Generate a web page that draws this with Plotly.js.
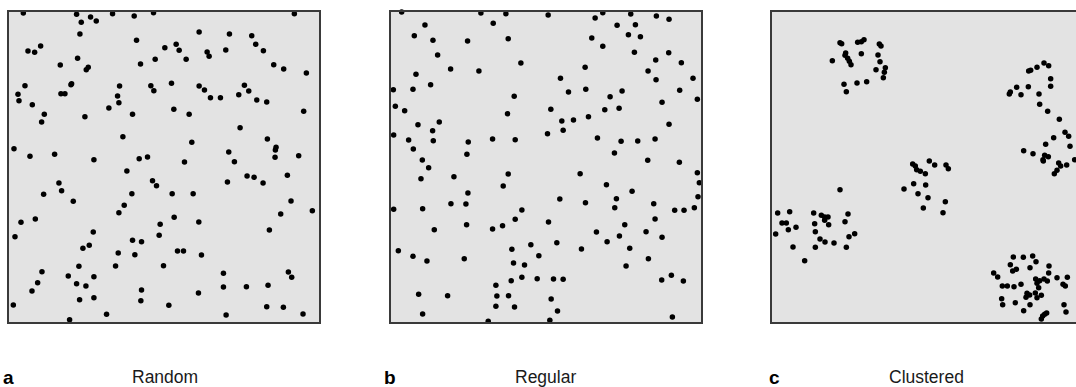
<!DOCTYPE html>
<html>
<head>
<meta charset="utf-8">
<script src="https://cdn.plot.ly/plotly-3.0.1.min.js"></script>
<style>
html,body{margin:0;padding:0;overflow:hidden;background:#fff;width:1076px;height:387px;}
#chart{width:1090px;height:387px;}
</style>
</head>
<body>
<div id="chart"></div>
<script>
// Point positions (arbitrary units, y grows downward)
const panelLabels = ["a", "b", "c"];
const panelTitles = ["Random", "Regular", "Clustered"];

const randomPts = [
[70,38],[230,42],[338,40],[403,47],[461,37],[884,40],[272,50],[289,62],[244,66],[240,101],
[598,95],[689,101],[756,106],[410,120],[122,137],[84,152],[104,156],[495,142],[529,132],[538,150],
[622,155],[628,168],[678,149],[768,132],[791,151],[233,174],[466,177],[559,177],[181,194],[422,191],
[822,193],[852,206],[920,218],[265,201],[259,208],[215,250],[213,253],[75,256],[54,282],[57,301],
[183,280],[195,280],[359,257],[353,287],[357,307],[453,256],[462,271],[515,249],[598,257],[614,269],
[632,292],[662,292],[734,255],[747,272],[717,283],[771,299],[801,305],[97,313],[327,323],[522,327],
[912,333],[133,342],[125,365],[255,349],[398,342],[568,342],[721,382],[369,409],[576,426],[803,416],
[42,445],[90,468],[164,462],[282,478],[418,475],[443,470],[687,455],[704,484],[829,441],[827,449],
[826,471],[897,466],[554,485],[381,512],[177,548],[185,571],[458,541],[470,556],[683,545],[742,527],
[763,531],[790,548],[863,525],[131,582],[220,603],[396,580],[517,580],[580,580],[874,602],[373,615],
[357,637],[938,631],[843,641],[63,666],[106,656],[523,651],[481,672],[597,665],[280,695],[809,689],
[45,709],[478,705],[398,720],[425,724],[249,744],[268,735],[355,758],[405,763],[533,752],[551,752],
[605,764],[237,798],[347,797],[491,796],[126,814],[205,827],[282,829],[671,819],[866,815],[876,831],
[113,847],[230,850],[258,857],[671,860],[740,859],[805,855],[96,872],[425,869],[596,878],[239,898],
[282,892],[423,901],[40,914],[507,915],[801,919],[851,921],[320,942],[679,944],[910,941],[209,958]
];

const regularPts = [
[64,35],[302,38],[377,40],[504,44],[668,37],[645,53],[752,41],[829,47],[867,57],[339,69],
[134,74],[711,75],[766,73],[102,106],[158,120],[262,122],[384,115],[745,103],[781,109],[635,113],
[668,138],[763,156],[866,157],[172,164],[827,179],[904,187],[422,188],[211,206],[296,212],[615,201],
[804,212],[107,222],[541,234],[828,238],[939,234],[151,253],[39,268],[98,267],[565,275],[617,267],
[726,272],[899,270],[402,288],[690,289],[952,297],[846,306],[45,318],[73,331],[512,327],[674,328],
[717,324],[382,340],[625,349],[580,359],[545,362],[177,365],[113,373],[867,372],[157,391],[549,390],
[502,400],[40,404],[85,419],[159,421],[264,425],[337,416],[405,418],[652,413],[723,423],[773,422],
[825,416],[99,446],[260,462],[703,458],[126,479],[145,502],[803,480],[898,486],[384,521],[600,520],
[221,529],[122,535],[952,517],[958,547],[369,557],[679,553],[756,573],[263,578],[954,589],[539,596],
[616,607],[709,595],[212,610],[257,611],[821,610],[40,627],[127,625],[425,629],[704,622],[884,630],
[912,630],[943,622],[405,657],[825,656],[505,665],[259,673],[367,676],[337,686],[162,688],[734,673],
[649,695],[798,694],[718,707],[846,711],[681,724],[530,727],[452,733],[395,747],[604,746],[749,744],
[54,751],[98,768],[476,766],[252,775],[140,782],[805,775],[400,788],[433,794],[738,797],[425,831],
[393,841],[471,835],[520,836],[549,837],[845,839],[874,825],[910,842],[347,855],[115,882],[202,886],
[350,887],[385,886],[513,896],[347,918],[403,920],[532,932],[127,941],[877,950],[324,963],[509,960]
];

const clusteredPts = [
[226,127],[231,130],[279,126],[290,124],[298,118],[344,131],[349,137],[243,158],[241,165],[290,160],
[340,164],[203,181],[249,174],[254,183],[259,193],[346,184],[334,208],[362,202],[359,216],[356,232],
[238,252],[277,248],[306,244],[245,274],
[792,212],[798,210],[817,201],[838,188],[852,196],[858,235],[737,275],[734,281],[756,261],[791,259],
[769,283],[858,258],[823,281],[825,312],[849,333],[884,357],[901,396],[912,408],[867,412],[843,432],
[916,438],[777,451],[805,460],[840,465],[851,469],[836,482],[835,478],[882,488],[888,497],[906,494],
[930,478],[877,510],[869,520],
[444,491],[452,497],[456,508],[467,513],[482,520],[494,482],[510,494],[544,494],[551,505],[447,550],
[483,554],[418,566],[460,580],[490,592],[542,604],[476,623],[535,637],[226,568],
[39,638],[75,634],[147,638],[170,645],[180,650],[190,650],[250,641],[52,668],[65,668],[71,688],
[94,681],[150,670],[180,660],[192,673],[241,664],[33,701],[152,694],[166,716],[181,725],[208,728],
[253,709],[270,700],[85,740],[152,741],[245,741],[120,781],
[746,770],[776,771],[804,767],[814,784],[737,793],[755,807],[744,812],[796,802],[853,797],[687,818],
[699,830],[852,818],[813,836],[825,841],[838,836],[848,842],[877,832],[908,831],[713,857],[728,857],
[748,859],[769,852],[817,849],[895,852],[902,857],[822,862],[787,879],[795,884],[812,878],[830,885],
[784,891],[817,892],[711,895],[714,913],[752,907],[796,913],[898,913],[777,931],[904,935],[834,947],
[840,942],[846,938],[830,956]
];

const figW = 1090, figH = 387;
const panels = [
  {pts: randomPts,    xr: [27, 958], left: 9,   labelX: 1,   titleX: 164.5},
  {pts: regularPts,   xr: [32, 963], left: 391, labelX: 382, titleX: 545.5},
  {pts: clusteredPts, xr: [22, 952], left: 772, labelX: 767, titleX: 926}
];
const yRange = [965, 35];
const boxW = 310, boxTop = 12, boxBottom = 322;

const traces = [];
const layout = {
  width: figW, height: figH,
  margin: {l: 0, r: 0, t: 0, b: 0},
  paper_bgcolor: "#ffffff",
  plot_bgcolor: "#e3e3e3",
  showlegend: false,
  annotations: []
};

panels.forEach((p, i) => {
  const s = i === 0 ? "" : String(i + 1);
  traces.push({
    type: "scatter", mode: "markers",
    x: p.pts.map(d => d[0]), y: p.pts.map(d => d[1]),
    xaxis: "x" + s, yaxis: "y" + s,
    cliponaxis: false,
    marker: {size: 5.5, color: "#000000"},
    hoverinfo: "skip"
  });
  const axCommon = {showgrid: false, zeroline: false, showticklabels: false, ticks: "",
    showline: true, mirror: true, linecolor: "#3a3a3a", linewidth: 2, fixedrange: true};
  layout["xaxis" + s] = Object.assign({}, axCommon, {
    domain: [p.left / figW, (p.left + boxW) / figW], range: p.xr, anchor: "y" + s});
  layout["yaxis" + s] = Object.assign({}, axCommon, {
    domain: [(figH - boxBottom) / figH, (figH - boxTop) / figH], range: yRange, anchor: "x" + s});
  layout.annotations.push({
    xref: "paper", yref: "paper", x: p.labelX / figW, y: (figH - 377.4) / figH,
    xanchor: "left", yanchor: "middle", showarrow: false,
    text: "<b>" + panelLabels[i] + "</b>",
    font: {family: "Liberation Sans, Arial, sans-serif", size: 19, color: "#000"}
  });
  layout.annotations.push({
    xref: "paper", yref: "paper", x: p.titleX / figW, y: (figH - 376.9) / figH,
    xanchor: "center", yanchor: "middle", showarrow: false,
    text: panelTitles[i],
    font: {family: "Liberation Sans, Arial, sans-serif", size: 17.5, color: "#1a1a1a"}
  });
});

Plotly.newPlot("chart", traces, layout, {displayModeBar: false, staticPlot: true});
</script>
</body>
</html>
